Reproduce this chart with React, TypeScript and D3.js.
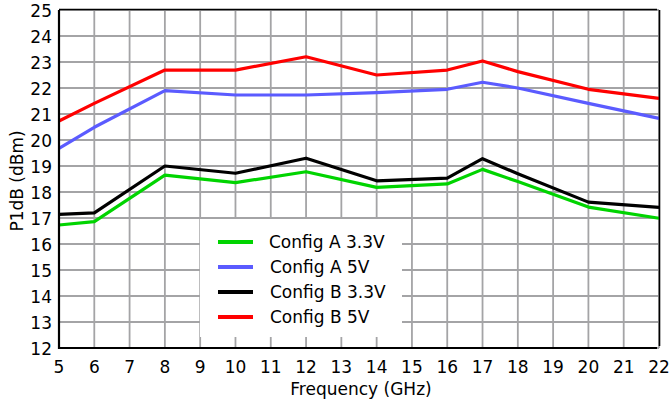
import React from "react";
import * as d3 from "d3";

const freqs = [5, 6, 8, 10, 12, 14, 16, 17, 18, 20, 22];
const configA33 = [16.73, 16.86, 18.65, 18.36, 18.78, 18.18, 18.31, 18.87, 18.4, 17.42, 16.99];
const configA5 = [19.68, 20.49, 21.9, 21.73, 21.73, 21.82, 21.95, 22.22, 22.0, 21.41, 20.83];
const configB33 = [17.14, 17.2, 19.0, 18.72, 19.3, 18.43, 18.53, 19.28, 18.7, 17.61, 17.41];
const configB5 = [20.73, 21.41, 22.69, 22.69, 23.2, 22.5, 22.69, 23.04, 22.63, 21.95, 21.6];

const seriesNames = ["Config A 3.3V", "Config A 5V", "Config B 3.3V", "Config B 5V"];
const seriesColors = ["#00d400", "#5b5bff", "#000000", "#ff0000"];
const seriesValues = [configA33, configA5, configB33, configB5];

const xTicks = d3.range(5, 23);
const yTicks = d3.range(12, 26);

export default function App() {
  const W = 672, H = 405;
  const left = 59, right = 659, top = 10, bottom = 348;
  const x = d3.scaleLinear().domain([5, 22]).range([left, right]);
  const y = d3.scaleLinear().domain([12, 25]).range([bottom, top]);
  const line = d3.line<[number, number]>().x(d => x(d[0])).y(d => y(d[1]));
  const font = "'DejaVu Sans', Verdana, sans-serif";
  const fs = 17;

  const legX = 200, legY = 219, legW = 202, legH = 118;

  return (
    <svg width={W} height={H} style={{ position: "absolute", left: 0, top: 0, background: "#fff" }}>
      <rect x={0} y={0} width={W} height={H} fill="#fff" />
      {xTicks.map(t => (
        <line key={"vx" + t} x1={x(t)} x2={x(t)} y1={top} y2={bottom} stroke="#a4a4a6" strokeWidth={1.8} />
      ))}
      {yTicks.map(t => (
        <line key={"hy" + t} x1={left} x2={right} y1={y(t)} y2={y(t)} stroke="#a4a4a6" strokeWidth={1.8} />
      ))}
      <rect x={legX} y={legY} width={legW} height={legH} fill="#fff" />
      {seriesValues.map((vals, i) => (
        <path
          key={"s" + i}
          d={line(freqs.map((f, j) => [f, vals[j]] as [number, number])) || ""}
          fill="none"
          stroke={seriesColors[i]}
          strokeWidth={3.2}
          strokeLinejoin="round"
        />
      ))}
      {/* frame */}
      <line x1={left} x2={657} y1={9.5} y2={9.5} stroke="#000" strokeWidth={1.3} />
      <line x1={659.5} x2={659.5} y1={10} y2={346} stroke="#000" strokeWidth={1.6} />
      <line x1={left} x2={left} y1={top} y2={bottom + 1} stroke="#000" strokeWidth={2.2} />
      <line x1={left} x2={657} y1={bottom} y2={bottom} stroke="#000" strokeWidth={2.2} />
      {/* legend */}
      {seriesNames.map((n, i) => (
        <g key={"l" + i}>
          <line x1={218} x2={253} y1={242 + i * 25} y2={242 + i * 25} stroke={seriesColors[i]} strokeWidth={4} />
          <text x={269 + (i === 0 ? 0 : 1)} y={248 + i * 25} fontFamily={font} fontSize={fs} fill="#000">{n}</text>
        </g>
      ))}
      {/* tick labels */}
      {yTicks.map(t => (
        <text key={"yl" + t} x={52} y={y(t) + 7} textAnchor="end" fontFamily={font} fontSize={fs} fill="#000">{t}</text>
      ))}
      {xTicks.map(t => (
        <text key={"xl" + t} x={x(t)} y={373} textAnchor="middle" fontFamily={font} fontSize={fs} fill="#000">{t}</text>
      ))}
      <text x={361} y={395} textAnchor="middle" fontFamily={font} fontSize={fs} fill="#000">Frequency (GHz)</text>
      <text transform={`translate(23,${181}) rotate(-90)`} textAnchor="middle" fontFamily={font} fontSize={fs} fill="#000">P1dB (dBm)</text>
    </svg>
  );
}
